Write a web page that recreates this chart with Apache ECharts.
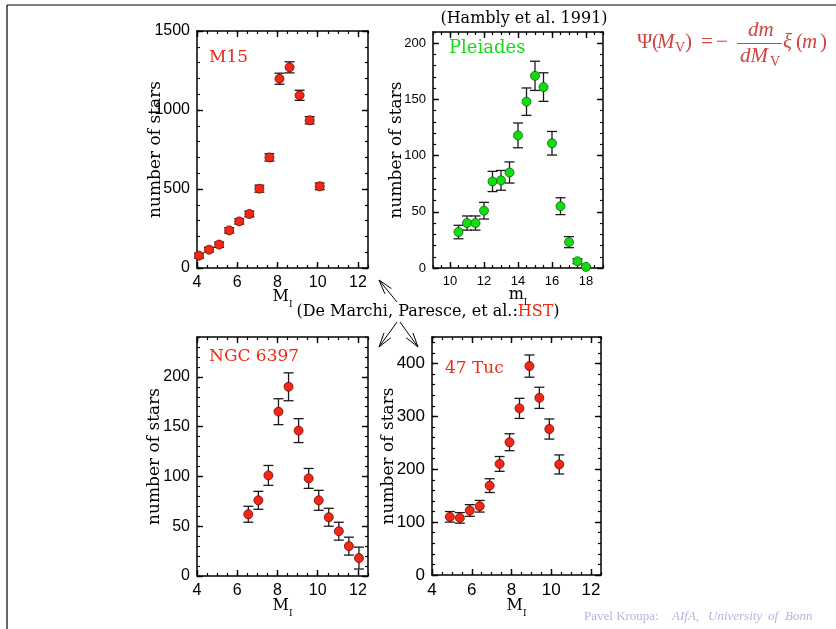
<!DOCTYPE html>
<html>
<head>
<meta charset="utf-8">
<title>Stellar luminosity functions</title>
<script src="https://cdn.jsdelivr.net/npm/echarts@6/dist/echarts.min.js"></script>
<style>
  html, body { margin: 0; padding: 0; background: #fff; }
  #chart { width: 836px; height: 629px; }
</style>
</head>
<body>
<div id="chart"></div>
<script>
// ---- M15 (De Marchi & Paresce, HST) ----
const m15Mag   = [4.1, 4.6, 5.1, 5.6, 6.1, 6.6, 7.1, 7.6, 8.1, 8.6, 9.1, 9.6, 10.1];
const m15Stars = [78, 116, 148, 238, 295, 342, 502, 700, 1198, 1270, 1093, 935, 517];
const m15Err   = [16, 15, 17, 17, 17, 18, 22, 23, 35, 35, 32, 23, 21];

// ---- Pleiades (Hambly et al. 1991) ----
const pleMag   = [10.5, 11, 11.5, 12, 12.5, 13, 13.5, 14, 14.5, 15, 15.5, 16, 16.5, 17, 17.5, 18];
const pleStars = [32, 40, 40, 51, 77, 78, 85, 118, 148, 171, 161, 111, 55, 23, 6, 1];
const pleErr   = [6, 6.3, 6.3, 7.4, 9, 8.8, 9.4, 11, 12.2, 13, 12.7, 10.5, 7.5, 4.9, 2.2, 1];

// ---- NGC 6397 ----
const ngcMag   = [6.55, 7.05, 7.55, 8.05, 8.55, 9.05, 9.55, 10.05, 10.55, 11.05, 11.55, 12.05];
const ngcStars = [62, 76, 101, 165, 190, 146, 98, 76, 59, 45, 30, 18];
const ngcErr   = [8, 9, 10, 13, 14, 12, 10, 10, 9, 9, 9, 11];

// ---- 47 Tuc ----
const tucMag   = [4.9, 5.4, 5.9, 6.4, 6.9, 7.4, 7.9, 8.4, 8.9, 9.4, 9.9, 10.4];
const tucStars = [110, 108, 122, 130, 169, 210, 251, 315, 395, 335, 276, 209];
const tucErr   = [10, 10, 11, 11, 13, 14, 16, 19, 21, 20, 19, 18];

// ---- tick labels ----
const clusterMagTicks = [4, 6, 8, 10, 12];
const pleMagTicks     = [10, 12, 14, 16, 18];
const m15CountTicks   = [0, 500, 1000, 1500];
const pleCountTicks   = [0, 50, 100, 150, 200];
const ngcCountTicks   = [0, 50, 100, 150, 200];
const tucCountTicks   = [0, 100, 200, 300, 400];

const RED = '#f02814';
const GREEN = '#14dc14';
const SERIF = '"DejaVu Serif", serif';
const SANS = '"Liberation Sans", Arial, sans-serif';

const panels = [
  { grid: { left: 197, top: 31, width: 171, height: 237 },
    x: [4, 12.5], xTicks: clusterMagTicks, xMinor: 0.5,
    y: [0, 1500], yTicks: m15CountTicks, yMinor: 100,
    fs: 16, xName: 'M', yGap: 33, xGap: 21,
    mag: m15Mag, stars: m15Stars, err: m15Err, color: RED, edge: '#7a0000' },
  { grid: { left: 433, top: 32, width: 170, height: 236 },
    x: [9, 19], xTicks: pleMagTicks, xMinor: 0.5,
    y: [0, 210], yTicks: pleCountTicks, yMinor: 10,
    fs: 13, xName: 'm', yGap: 28, xGap: 19,
    mag: pleMag, stars: pleStars, err: pleErr, color: GREEN, edge: '#006a00' },
  { grid: { left: 197, top: 337, width: 171, height: 239 },
    x: [4, 12.5], xTicks: clusterMagTicks, xMinor: 0.5,
    y: [0, 240], yTicks: ngcCountTicks, yMinor: 10,
    fs: 16, xName: 'M', yGap: 34, xGap: 22,
    mag: ngcMag, stars: ngcStars, err: ngcErr, color: RED, edge: '#7a0000' },
  { grid: { left: 432, top: 337, width: 169, height: 238 },
    x: [4, 12.5], xTicks: clusterMagTicks, xMinor: 0.5,
    y: [0, 450], yTicks: tucCountTicks, yMinor: 20,
    fs: 17, xName: 'M', yGap: 35, xGap: 23,
    mag: tucMag, stars: tucStars, err: tucErr, color: RED, edge: '#7a0000' }
];

// Each side of a frame gets two overlaid axes: one for the long labelled
// ticks and one for the short minor ticks.
function axesFor(dim, g, p) {
  const isX = dim === 'x';
  const range = isX ? p.x : p.y;
  const ticks = isX ? p.xTicks : p.yTicks;
  const minor = isX ? p.xMinor : p.yMinor;
  const sides = isX ? ['bottom', 'top'] : ['left', 'right'];
  const out = [];
  sides.forEach((side, s) => {
    const major = {
      gridIndex: g, type: 'value', position: side,
      min: range[0], max: range[1],
      splitLine: { show: false },
      axisLine: { show: true, onZero: false, lineStyle: { color: '#000', width: 1.5 } },
      axisTick: { show: true, inside: true, length: 6, customValues: ticks,
                  lineStyle: { color: '#000', width: 1.4 } },
      axisLabel: { show: s === 0, margin: 7, customValues: ticks,
                   formatter: v => String(v),
                   fontFamily: SANS, fontSize: p.fs, color: '#000' }
    };
    if (s === 0) {
      major.nameLocation = 'middle';
      major.nameMoveOverlap = false;
      if (isX) {
        major.name = '{m|' + p.xName + '}{s|I}';
        major.nameGap = p.xGap;
        major.nameTextStyle = {
          color: '#000', fontFamily: SERIF, lineHeight: 20,
          rich: {
            m: { fontFamily: SERIF, fontSize: 16, color: '#000', verticalAlign: 'top', lineHeight: 20 },
            s: { fontFamily: SERIF, fontSize: 9, color: '#000', verticalAlign: 'bottom', lineHeight: 20 }
          }
        };
      } else {
        major.name = 'number of stars';
        major.nameGap = p.yGap;
        major.nameTextStyle = { color: '#000', fontFamily: SERIF, fontSize: 17 };
      }
    }
    const minorAxis = {
      gridIndex: g, type: 'value', position: side,
      min: range[0], max: range[1], interval: minor,
      splitLine: { show: false },
      axisLine: { show: false, onZero: false },
      axisTick: { show: true, inside: true, length: 3, lineStyle: { color: '#000', width: 1.2 } },
      axisLabel: { show: false }
    };
    out.push(major, minorAxis);
  });
  return out;
}

const grids = [], xAxes = [], yAxes = [], series = [];
panels.forEach((p, g) => {
  grids.push(Object.assign({ containLabel: false }, p.grid));
  const xi = xAxes.length, yi = yAxes.length;
  xAxes.push(...axesFor('x', g, p));
  yAxes.push(...axesFor('y', g, p));
  const rows = p.mag.map((m, i) => [m, p.stars[i], p.err[i]]);
  // error bars with caps
  series.push({
    type: 'custom', xAxisIndex: xi, yAxisIndex: yi, data: rows,
    encode: { x: 0, y: 1 }, z: 2, silent: true,
    renderItem(params, api) {
      const x = api.value(0), y = api.value(1), e = api.value(2);
      const hi = api.coord([x, y + e]);
      const lo = api.coord([x, y - e]);
      const w = 5;
      const st = { stroke: '#1a1a1a', lineWidth: 1.3 };
      return { type: 'group', children: [
        { type: 'line', shape: { x1: hi[0], y1: hi[1], x2: lo[0], y2: lo[1] }, style: st },
        { type: 'line', shape: { x1: hi[0] - w, y1: hi[1], x2: hi[0] + w, y2: hi[1] }, style: st },
        { type: 'line', shape: { x1: lo[0] - w, y1: lo[1], x2: lo[0] + w, y2: lo[1] }, style: st }
      ]};
    }
  });
  series.push({
    type: 'scatter', xAxisIndex: xi, yAxisIndex: yi, z: 3, silent: true,
    data: rows.map(r => [r[0], r[1]]),
    symbol: 'circle', symbolSize: 9,
    itemStyle: { color: p.color, borderColor: p.edge, borderWidth: 0.8, opacity: 1 }
  });
});

// plain text helper for the graphic layer
function txt(x, y, text, font, fill, align) {
  return { type: 'text', x: x, y: y, silent: true,
           style: { text: text, font: font, fill: fill,
                    align: align || 'left', textAlign: align || 'left',
                    verticalAlign: 'middle', textVerticalAlign: 'middle' } };
}
function ln(x1, y1, x2, y2, color, w) {
  return { type: 'line', silent: true, shape: { x1, y1, x2, y2 },
           style: { stroke: color || '#000', lineWidth: w || 1 } };
}
// open arrow: shaft plus two narrow barbs at the tip
function arrow(tx, ty, fx, fy) {
  const a = Math.atan2(fy - ty, fx - tx), L = 15, h = 0.28;
  return [
    ln(fx, fy, tx, ty, '#000', 1),
    ln(tx, ty, tx + L * Math.cos(a + h), ty + L * Math.sin(a + h), '#000', 1),
    ln(tx, ty, tx + L * Math.cos(a - h), ty + L * Math.sin(a - h), '#000', 1)
  ];
}

const FRED = '#d0443e';
const MATH = '"Liberation Serif", "Times New Roman", serif';
const F = '21px ' + MATH, FI = 'italic 21px ' + MATH, FS = '14px ' + MATH;
const graphics = [
  // page frame
  ln(7, 5, 836, 5, '#000', 1.2),
  ln(7, 5, 7, 629, '#000', 1.2),
  // cluster labels
  txt(209, 58, 'M15', '17px ' + SERIF, RED),
  txt(449, 48, 'Pleiades', '18px ' + SERIF, GREEN),
  txt(209, 357, 'NGC 6397', '17px ' + SERIF, RED),
  txt(445, 369, '47 Tuc', '17px ' + SERIF, RED),
  // references
  txt(524, 19, '(Hambly et al. 1991)', '16px ' + SERIF, '#000', 'center'),
  { type: 'text', x: 428, y: 312, silent: true,
    style: { text: '{n|(De Marchi, Paresce, et al.:}{h|HST}{n|)}',
             align: 'center', textAlign: 'center', verticalAlign: 'middle', textVerticalAlign: 'middle',
             rich: { n: { fontFamily: SERIF, fontSize: 16, fill: '#000', color: '#000' },
                     h: { fontFamily: SERIF, fontSize: 16, fill: RED, color: RED } } } },
  ...arrow(379, 280, 397, 302),
  ...arrow(379, 347, 397, 322),
  ...arrow(418, 347, 400, 322),
  // Ψ(M_V) = − dm/dM_V ξ(m)
  txt(637, 42, 'Ψ', F, FRED),
  txt(652, 42, '(', F, FRED),
  txt(657, 42, 'M', FI, FRED),
  txt(675, 48, 'V', FS, FRED),
  txt(685, 42, ')', F, FRED),
  txt(701, 42, '=', F, FRED),
  txt(716, 42, '−', F, FRED),
  txt(748, 30, 'dm', FI, FRED),
  ln(737, 43.5, 782, 43.5, FRED, 1),
  txt(740, 56, 'dM', FI, FRED),
  txt(770, 62, 'V', FS, FRED),
  txt(783, 42, 'ξ', FI, FRED),
  txt(796, 42, '(', F, FRED),
  txt(802, 42, 'm', FI, FRED),
  txt(820, 42, ')', F, FRED),
  // credit line
  txt(584, 617, 'Pavel Kroupa:', '13px ' + MATH, '#b4b4e0'),
  txt(672, 617, 'AIfA,', 'italic 13px ' + MATH, '#b4b4e0'),
  txt(708, 617, 'University', 'italic 13px ' + MATH, '#b4b4e0'),
  txt(768, 617, 'of', 'italic 13px ' + MATH, '#b4b4e0'),
  txt(785, 617, 'Bonn', 'italic 13px ' + MATH, '#b4b4e0')
];

const chart = echarts.init(document.getElementById('chart'), null, { renderer: 'canvas' });
chart.setOption({
  animation: false,
  backgroundColor: '#fff',
  grid: grids,
  xAxis: xAxes,
  yAxis: yAxes,
  series: series,
  graphic: { elements: graphics }
});
</script>
</body>
</html>
